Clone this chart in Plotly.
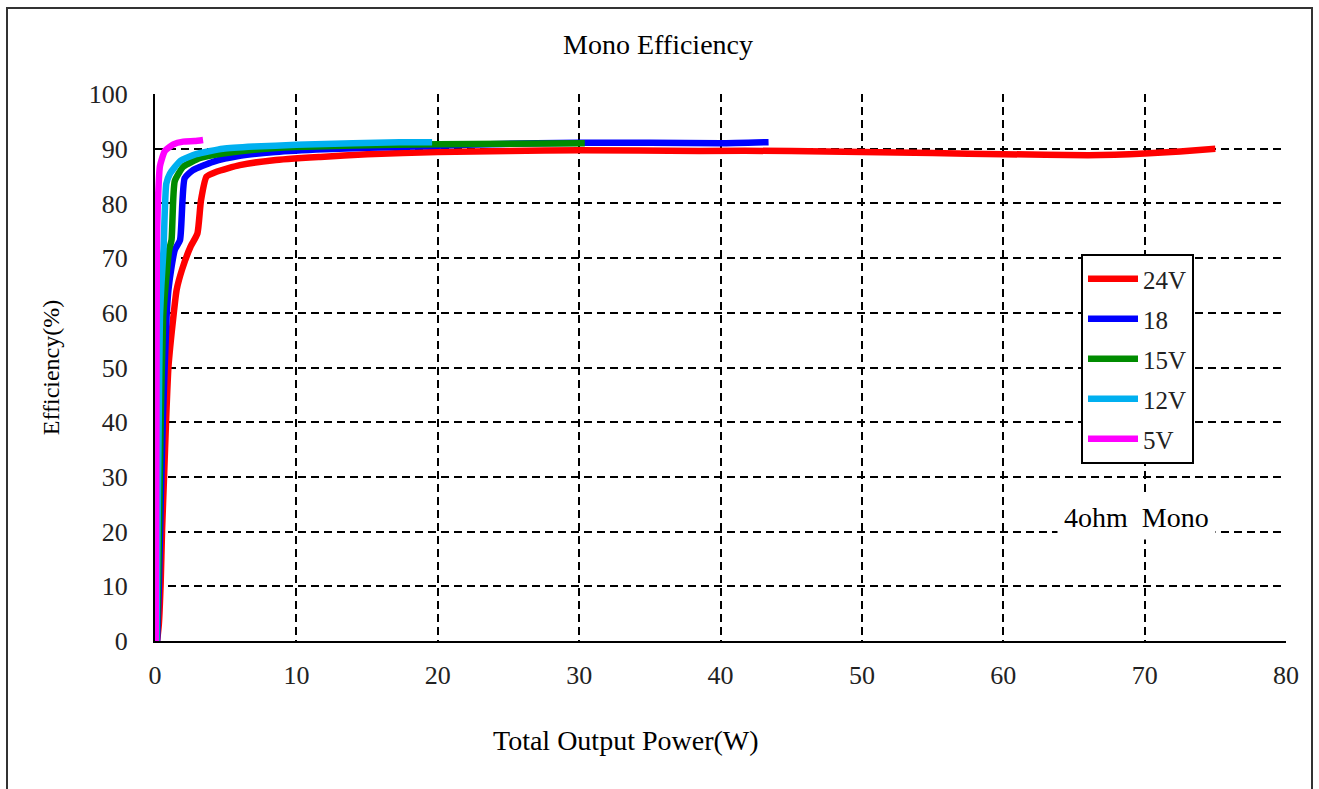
import plotly.graph_objects as go

# ---- data ----
x_24v = [0.15, 0.27, 0.4, 0.5, 0.64, 0.78, 0.95, 1.3, 1.53, 1.9, 2.5, 3.0, 3.25, 3.65, 4.35, 6.0, 8.4, 11.7, 15, 20, 25, 30, 38.5, 45, 50, 55, 60, 66, 70, 72.5, 75]
y_24v = [0, 3, 10.6, 20.3, 30, 40.1, 50.1, 59.3, 64.2, 67.8, 72.0, 74.5, 80.5, 84.9, 85.8, 87.0, 87.9, 88.5, 89.0, 89.4, 89.6, 89.7, 89.6, 89.6, 89.4, 89.2, 89.0, 88.8, 89.1, 89.5, 90.0]

x_18v = [0.15, 0.27, 0.4, 0.55, 0.82, 0.95, 1.17, 1.4, 1.77, 2.1, 2.7, 4.1, 6, 8.5, 12, 17, 22, 27, 30, 35, 40, 43.4]
y_18v = [0, 10, 25, 40, 59.3, 64.2, 68.4, 71.5, 73.3, 84.6, 86.1, 87.6, 88.7, 89.4, 89.9, 90.3, 90.7, 91.0, 91.1, 91.1, 91.0, 91.2]

x_15v = [0.12, 0.25, 0.4, 0.58, 0.75, 1.0, 1.17, 1.4, 2.0, 3.2, 4.8, 7, 10, 14, 20, 25, 30.4]
y_15v = [0, 15, 40, 59.3, 65, 71.5, 73.3, 84.1, 86.7, 88.3, 89.1, 89.8, 90.3, 90.6, 90.8, 90.9, 91.0]

x_12v = [0.1, 0.2, 0.3, 0.35, 0.45, 0.6, 0.8, 1.05, 1.8, 2.9, 4.8, 7, 10, 14, 17.3, 19.6]
y_12v = [0, 25, 50, 59.3, 65, 71.5, 83.6, 85.4, 87.8, 89.0, 90.0, 90.4, 90.7, 91.0, 91.2, 91.2]

x_5v = [0.05, 0.1, 0.13, 0.2, 0.35, 0.7, 1.3, 2.0, 2.8, 3.4]
y_5v = [0, 40, 71.5, 80, 86.8, 89.6, 90.8, 91.3, 91.4, 91.6]

series_names = ["24V", "18", "15V", "12V", "5V"]
series_colors = ["#FF0000", "#0000FF", "#008C00", "#00B0F0", "#FF00FF"]
series_x = [x_24v, x_18v, x_15v, x_12v, x_5v]
series_y = [y_24v, y_18v, y_15v, y_12v, y_5v]

x_ticks = [0, 10, 20, 30, 40, 50, 60, 70, 80]
y_ticks = [0, 10, 20, 30, 40, 50, 60, 70, 80, 90, 100]

FONT = "Liberation Serif"

fig = go.Figure()
for name, col, xs, ys in zip(series_names, series_colors, series_x, series_y):
    fig.add_trace(go.Scatter(
        x=xs, y=ys, mode="lines", name=name, legendgroup=name,
        line=dict(color=col, width=6.5, shape="spline", smoothing=0.5),
    ))

fig.update_layout(
    width=1319, height=789,
    margin=dict(l=155, r=33, t=94, b=148),
    paper_bgcolor="white", plot_bgcolor="white",
    font=dict(family=FONT, size=26, color="#222"),
    title=dict(text="Mono Efficiency", x=(658) / 1319, xanchor="center",
               y=1 - 44 / 789, yanchor="middle",
               font=dict(family=FONT, size=28, color="black")),
    showlegend=True,
    legend=dict(x=(1081 - 155) / 1131, y=(641 - 254) / 547, xanchor="left", yanchor="top",
                bgcolor="white", bordercolor="black", borderwidth=2,
                font=dict(family=FONT, size=25, color="#222"),
                tracegroupgap=4.5, itemwidth=50),
)

fig.update_xaxes(
    range=[0, 80], tickvals=x_ticks, showline=True, linecolor="black", linewidth=2,
    showgrid=True, gridcolor="black", gridwidth=2, griddash="8px,5px",
    zeroline=False, ticks="", ticklabelstandoff=10,
    tickfont=dict(family=FONT, size=26, color="#222"),
)
fig.update_yaxes(
    range=[0, 100], tickvals=y_ticks, showline=True, linecolor="black", linewidth=2,
    showgrid=True, gridcolor="black", gridwidth=2, griddash="8px,5px",
    zeroline=False, ticks="", ticklabelstandoff=20,
    tickfont=dict(family=FONT, size=26, color="#222"),
    title=dict(text="Efficiency(%)", standoff=22,
               font=dict(family=FONT, size=24, color="black")),
)

# x-axis title (offset to the left of the plot centre, as in the reference)
fig.add_annotation(x=(626 - 155) / 1131, y=(641 - 740) / 547, xref="paper", yref="paper",
                   text="Total Output Power(W)", showarrow=False,
                   xanchor="center", yanchor="middle",
                   font=dict(family=FONT, size=28, color="black"))

# outer frame of the chart area
fig.add_shape(type="rect", xref="paper", yref="paper",
              x0=(7 - 155) / 1131, x1=(1312 - 155) / 1131,
              y0=(641 - 800) / 547, y1=(641 - 8) / 547,
              line=dict(color="#333", width=2), fillcolor="rgba(0,0,0,0)", layer="above")

fig.add_annotation(x=69.4, y=22.5, xref="x", yref="y", text="4ohm  Mono",
                   showarrow=False, bgcolor="white", borderpad=6,
                   font=dict(family=FONT, size=28, color="black"))

fig.write_html("out.html")
